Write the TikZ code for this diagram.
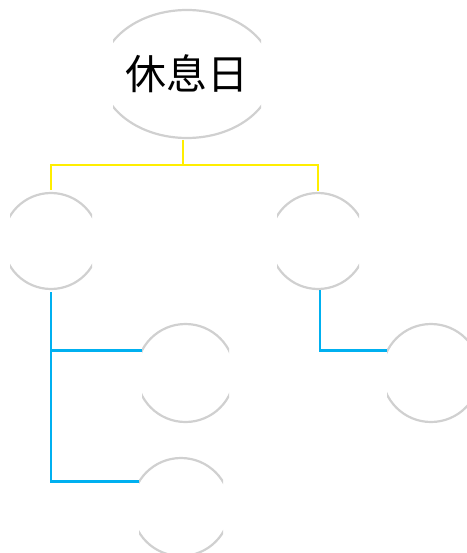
\documentclass[tikz,border=0pt]{standalone}
\usepackage{fontspec}
\newfontfamily\cjk{Noto Sans CJK SC}
\usetikzlibrary{shapes.geometric}
\definecolor{arcgray}{HTML}{D0D0D0}
\definecolor{busyellow}{HTML}{FFEE00}
\definecolor{linkblue}{HTML}{00B0F0}
\tikzset{
  x=1pt, y=1pt,
  arcline/.style={draw=arcgray, line width=2.2pt},
  yelline/.style={draw=busyellow, line width=2.6pt},
  blueline/.style={draw=linkblue, line width=2.6pt},
  rootbox/.style={ellipse, minimum width=172pt, minimum height=128pt, inner sep=0pt, font=\cjk\fontsize{41}{44}\selectfont},
  childbox/.style={circle, minimum size=#1, inner sep=0pt}
}
\begin{document}
\begin{tikzpicture}
\useasboundingbox (0,0) rectangle (466,-553);
% nodes
\node[rootbox] (root) at (187,-74) {休息日};
\node[childbox=96pt] (c1) at (51,-241) {};
\node[childbox=96pt] (c2) at (318,-241) {};
\node[childbox=98pt] (c3) at (185.5,-373) {};
\node[childbox=98pt] (c4) at (431,-373) {};
\node[childbox=98pt] (c5) at (181,-507) {};
% clipped outlines
\begin{scope}
  \clip ([xshift=-74pt,yshift=3pt]root.north) rectangle ([xshift=74pt,yshift=-3pt]root.south);
  \draw[arcline] (root.center) ellipse[x radius=86, y radius=64];
\end{scope}
\begin{scope}
  \clip ([xshift=-41pt,yshift=3pt]c1.north) rectangle ([xshift=41pt,yshift=-3pt]c1.south);
  \draw[arcline] (c1.center) circle[radius=48];
\end{scope}
\begin{scope}
  \clip ([xshift=-41pt,yshift=3pt]c2.north) rectangle ([xshift=41pt,yshift=-3pt]c2.south);
  \draw[arcline] (c2.center) circle[radius=48];
\end{scope}
\begin{scope}
  \clip ([xshift=-43.5pt,yshift=3pt]c3.north) rectangle ([xshift=43.5pt,yshift=-3pt]c3.south);
  \draw[arcline] (c3.center) circle[radius=49];
\end{scope}
\begin{scope}
  \clip ([xshift=-44pt,yshift=3pt]c4.north) rectangle ([xshift=44pt,yshift=-3pt]c4.south);
  \draw[arcline] (c4.center) circle[radius=49];
\end{scope}
\begin{scope}
  \clip ([xshift=-42pt,yshift=3pt]c5.north) rectangle ([xshift=42pt,yshift=-3pt]c5.south);
  \draw[arcline] (c5.center) circle[radius=49];
\end{scope}
% yellow connectors
\coordinate (ybus) at (0,-165);
\draw[yelline] ([xshift=-4pt,yshift=-2pt]root.south) -- ([xshift=-4pt]root.south |- ybus);
\draw[yelline] ([yshift=3pt]c1.north) |- (ybus -| c2.north) -- ([yshift=2pt]c2.north);
% blue connectors
\draw[blueline] ([yshift=-3pt]c1.south) |- (c3.153);
\draw[blueline] ([yshift=-3pt]c1.south) |- (c5.149);
\draw[blueline] ([xshift=2pt,yshift=-1pt]c2.south) |- (c4.153);
\end{tikzpicture}
\end{document}
